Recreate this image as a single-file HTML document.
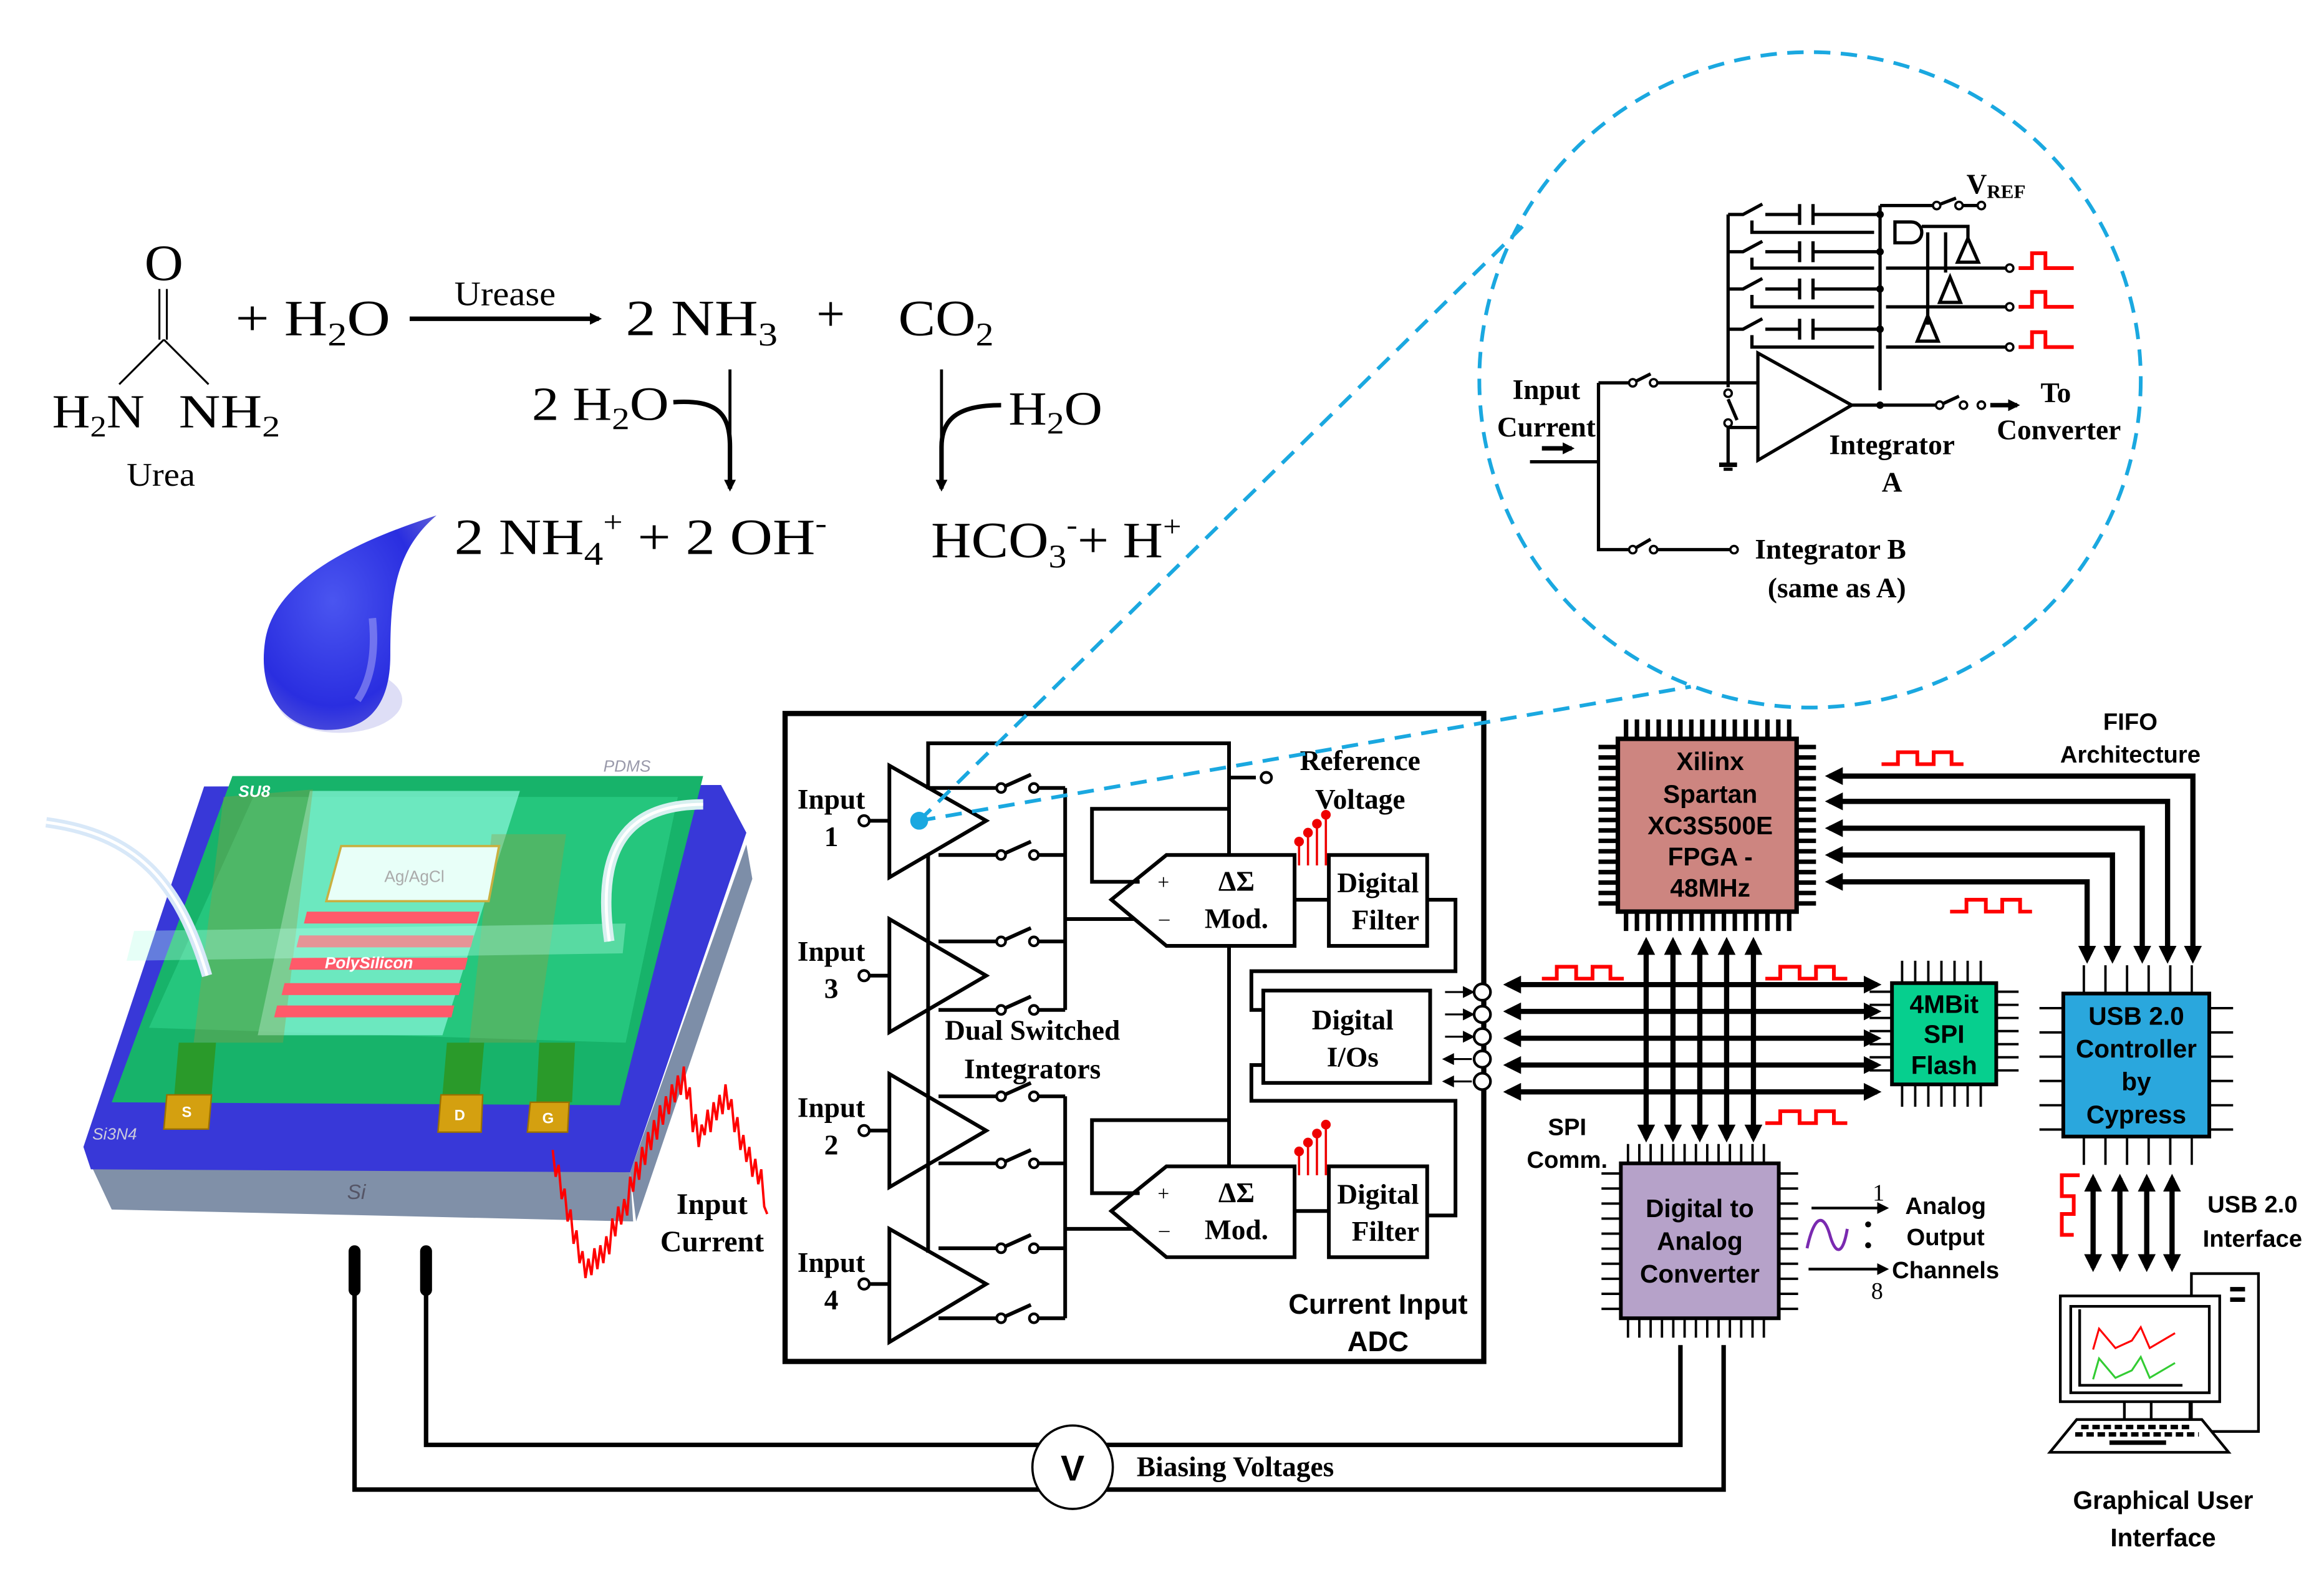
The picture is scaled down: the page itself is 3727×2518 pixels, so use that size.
<!DOCTYPE html>
<html><head><meta charset="utf-8"><style>
html,body{margin:0;padding:0;background:#fff}
svg{display:block}
.s{font-family:"Liberation Serif",serif}
.sb{font-family:"Liberation Serif",serif;font-weight:bold}
.a{font-family:"Liberation Sans",sans-serif;font-weight:bold}
</style></head><body>
<svg width="3727" height="2518" viewBox="0 0 1560 1054" preserveAspectRatio="none" xmlns="http://www.w3.org/2000/svg">
<defs>
<marker id="ah" markerWidth="8" markerHeight="8" refX="6" refY="4" orient="auto" markerUnits="userSpaceOnUse"><path d="M0,0 L8,4 L0,8 z" fill="#000"/></marker>
<marker id="ab" markerWidth="12" markerHeight="12" refX="9" refY="6" orient="auto-start-reverse" markerUnits="userSpaceOnUse"><path d="M0,0 L12,6 L0,12 z" fill="#000"/></marker>
<radialGradient id="dg" cx="0.4" cy="0.4" r="0.7"><stop offset="0" stop-color="#4a55f0"/><stop offset="0.7" stop-color="#2a2ee0"/><stop offset="1" stop-color="#5a5ad8"/></radialGradient>
</defs>

<!-- Chemistry -->
<g class="s" fill="#000">
<text x="97" y="188" font-size="34" textLength="26" lengthAdjust="spacingAndGlyphs">O</text>
<line x1="107" y1="194" x2="107" y2="228" stroke="#000" stroke-width="1.3"/>
<line x1="112" y1="194" x2="112" y2="228" stroke="#000" stroke-width="1.3"/>
<line x1="110" y1="228" x2="80" y2="258" stroke="#000" stroke-width="1.3"/>
<line x1="110" y1="228" x2="140" y2="258" stroke="#000" stroke-width="1.3"/>
<text x="35" y="287" font-size="32" textLength="62" lengthAdjust="spacingAndGlyphs">H<tspan font-size="20" dy="6">2</tspan><tspan dy="-6">N</tspan></text>
<text x="120" y="287" font-size="32" textLength="68" lengthAdjust="spacingAndGlyphs">NH<tspan font-size="20" dy="6">2</tspan></text>
<text x="85" y="326" font-size="22" textLength="46" lengthAdjust="spacingAndGlyphs">Urea</text>
<text x="158" y="225" font-size="34" textLength="104" lengthAdjust="spacingAndGlyphs">+ H<tspan font-size="22" dy="7">2</tspan><tspan dy="-7">O</tspan></text>
<text x="305" y="205" font-size="23" textLength="68" lengthAdjust="spacingAndGlyphs">Urease</text>
<line x1="275" y1="214" x2="402" y2="214" stroke="#000" stroke-width="3" marker-end="url(#ah)"/>
<text x="420" y="225" font-size="34" textLength="102" lengthAdjust="spacingAndGlyphs">2  NH<tspan font-size="22" dy="7">3</tspan></text>
<text x="548" y="222" font-size="34">+</text>
<text x="603" y="225" font-size="34" textLength="64" lengthAdjust="spacingAndGlyphs">CO<tspan font-size="22" dy="7">2</tspan></text>
<text x="357" y="282" font-size="32" textLength="92" lengthAdjust="spacingAndGlyphs">2 H<tspan font-size="21" dy="6">2</tspan><tspan dy="-6">O</tspan></text>
<path d="M452,270 C482,268 490,278 490,300 L490,328" fill="none" stroke="#000" stroke-width="3" marker-end="url(#ah)"/>
<line x1="490" y1="248" x2="490" y2="300" stroke="#000" stroke-width="2"/>
<text x="677" y="285" font-size="32" textLength="63" lengthAdjust="spacingAndGlyphs">H<tspan font-size="21" dy="6">2</tspan><tspan dy="-6">O</tspan></text>
<path d="M672,272 C642,272 632,282 632,300 L632,328" fill="none" stroke="#000" stroke-width="3" marker-end="url(#ah)"/>
<line x1="632" y1="248" x2="632" y2="300" stroke="#000" stroke-width="2"/>
<text x="305" y="372" font-size="34" textLength="250" lengthAdjust="spacingAndGlyphs">2  NH<tspan font-size="22" dy="7">4</tspan><tspan font-size="20" dy="-22">+</tspan><tspan dy="15"> + 2 OH</tspan><tspan font-size="20" dy="-14">-</tspan></text>
<text x="625" y="374" font-size="34" textLength="168" lengthAdjust="spacingAndGlyphs">HCO<tspan font-size="22" dy="7">3</tspan><tspan font-size="20" dy="-22">-</tspan><tspan dy="15">+ H</tspan><tspan font-size="20" dy="-14">+</tspan></text>
</g>

<!-- Drop -->
<ellipse cx="228" cy="470" rx="42" ry="22" fill="#c8c8f0" opacity="0.6"/>
<path d="M293,346 C250,360 185,385 178,430 C172,470 195,490 220,490 C250,490 262,470 262,440 C262,400 265,370 293,346 Z" fill="url(#dg)"/>
<path d="M240,470 C250,455 252,435 250,415" fill="none" stroke="#9a9af5" stroke-width="5" opacity="0.6"/>

<!-- Chip 3D -->
<polygon points="61,782 423,787 425,820 75,812" fill="#8090a8"/>
<polygon points="423,787 501,567 505,590 427,820" fill="#7d8ea8"/>
<polygon points="56,770 137,528 484,527 501,559 423,787 61,785" fill="#3838d8"/>
<polygon points="75,740 156,521 472,521 416,742" fill="#17b36a"/>
<polygon points="100,690 170,535 455,535 420,700" fill="#2ccf86" opacity="0.7"/>
<polygon points="208,531 349,531 297,695 173,695" fill="#7ef0d0" opacity="0.8"/>
<polygon points="150,535 210,530 190,700 130,700" fill="#9a9a40" opacity="0.35"/>
<polygon points="330,560 380,560 360,700 315,700" fill="#9a9a40" opacity="0.35"/>
<polygon points="229,568 335,568 328,605 219,605" fill="#e8fff8" stroke="#c8b040" stroke-width="1.5"/>
<text x="258" y="592" font-family="Liberation Sans" font-size="11" fill="#aaa">Ag/AgCl</text>
<g fill="#ff5a6a">
<polygon points="206,612 322,612 320,620 204,620"/>
<polygon points="201,628 318,628 316,636 199,636"/>
<polygon points="196,643 314,643 312,651 194,651"/>
<polygon points="191,660 310,660 308,668 189,668"/>
<polygon points="186,675 305,675 303,683 184,683"/>
</g>
<text x="218" y="650" font-family="Liberation Sans" font-weight="bold" font-style="italic" font-size="11" fill="#fff">PolySilicon</text>
<polygon points="90,625 420,620 418,640 85,645" fill="#b8ffe8" opacity="0.35"/>
<g fill="#2a9a2a"><polygon points="120,700 145,700 142,735 117,735"/><polygon points="300,700 325,700 322,735 297,735"/><polygon points="362,700 386,700 384,740 360,740"/></g>
<g fill="#d4a010" stroke="#9a7000" stroke-width="1"><polygon points="112,735 142,735 140,758 110,758"/><polygon points="296,735 324,735 323,760 294,760"/><polygon points="356,740 382,740 381,760 354,760"/></g>
<g font-family="Liberation Sans" font-weight="bold" font-size="10" fill="#fff"><text x="122" y="750">S</text><text x="305" y="752">D</text><text x="364" y="754">G</text></g>
<text x="62" y="765" font-family="Liberation Sans" font-style="italic" font-size="11" fill="#ccd">Si3N4</text>
<text x="160" y="535" font-family="Liberation Sans" font-weight="bold" font-style="italic" font-size="11" fill="#fff">SU8</text>
<text x="405" y="518" font-family="Liberation Sans" font-style="italic" font-size="11" fill="#99a">PDMS</text>
<text x="233" y="805" font-family="Liberation Sans" font-style="italic" font-size="14" fill="#556">Si</text>
<path d="M31,552 C90,560 120,590 139,655" fill="none" stroke="#d8e8f8" stroke-width="7"/>
<path d="M31,552 C90,560 120,590 139,655" fill="none" stroke="#fff" stroke-width="2"/>
<path d="M472,540 C420,540 400,570 409,632" fill="none" stroke="#d8f0f0" stroke-width="7"/>
<path d="M472,540 C420,540 400,570 409,632" fill="none" stroke="#fff" stroke-width="2"/>
<polyline fill="none" stroke="#f00" stroke-width="1.6" points="371,772 373,790 375,782 377,805 379,798 381,820 383,812 385,835 387,826 389,848 391,840 393,858 395,845 397,856 399,838 401,852 403,836 405,848 407,830 409,842 411,818 413,830 415,810 417,822 419,805 421,816 423,790 425,800 427,780 429,792 431,770 433,782 435,760 437,772 439,752 441,765 443,742 445,755 447,736 449,748 451,728 453,740 455,722 457,735 459,716 461,738 463,730 465,760 467,748 469,770 471,755 473,762 475,745 477,760 479,740 481,752 483,735 485,748 487,728 489,745 491,738 493,760 495,750 497,772 499,762 501,780 503,770 505,790 507,778 509,795 511,785 513,810 515,815"/>
<text class="sb" x="478" y="815" font-size="20" text-anchor="middle">Input</text>
<text class="sb" x="478" y="840" font-size="20" text-anchor="middle">Current</text>

<!-- Bias -->
<g stroke="#000" fill="none">
<line x1="238" y1="840" x2="238" y2="866" stroke-width="8" stroke-linecap="round"/>
<line x1="286" y1="840" x2="286" y2="866" stroke-width="8" stroke-linecap="round"/>
<polyline points="286,862 286,970 1128,970 1128,903" stroke-width="3"/>
<polyline points="238,862 238,1000 1157,1000 1157,903" stroke-width="3"/>
</g>
<ellipse cx="720" cy="985" rx="27" ry="28" fill="#fff" stroke="#000" stroke-width="1.5"/>
<text class="a" x="720" y="994" font-size="24" text-anchor="middle">V</text>
<text class="sb" x="763" y="991" font-size="19">Biasing Voltages</text>

<!-- ADC -->
<rect x="527" y="479" width="469" height="435" fill="none" stroke="#000" stroke-width="3.5"/>
<g stroke="#000" stroke-width="2.5" fill="none">
<polygon points="597,514 597,589 662,551" fill="#fff"/>
<polygon points="597,617 597,693 662,655" fill="#fff"/>
<polygon points="597,721 597,797 662,759" fill="#fff"/>
<polygon points="597,825 597,901 662,862" fill="#fff"/>
<line x1="580" y1="551" x2="597" y2="551"/><line x1="580" y1="655" x2="597" y2="655"/><line x1="580" y1="759" x2="597" y2="759"/><line x1="580" y1="862" x2="597" y2="862"/>
<polyline points="623,530 623,499 825,499 825,574"/>
<line x1="623" y1="574" x2="623" y2="841"/>
<!-- switches rows -->
<polyline points="623,529 672,529 692,520"/><polyline points="694,529 715,529"/>
<polyline points="630,574 672,574 692,565"/><polyline points="694,574 715,574"/>
<polyline points="630,632 672,632 692,623"/><polyline points="694,632 715,632"/>
<polyline points="630,678 672,678 692,669"/><polyline points="694,678 715,678"/>
<polyline points="630,736 672,736 692,727"/><polyline points="694,736 715,736"/>
<polyline points="630,781 672,781 692,772"/><polyline points="694,781 715,781"/>
<polyline points="630,838 672,838 692,829"/><polyline points="694,838 715,838"/>
<polyline points="630,885 672,885 692,876"/><polyline points="694,885 715,885"/>
<line x1="715" y1="529" x2="715" y2="678"/><line x1="715" y1="736" x2="715" y2="885"/>
<line x1="715" y1="617" x2="770" y2="617"/><line x1="715" y1="825" x2="770" y2="825"/>
<polygon points="746,604 783,574 869,574 869,635 783,635" fill="#fff"/>
<polygon points="746,813 783,783 869,783 869,844 783,844" fill="#fff"/>
<polyline points="765,592 733,592 733,543 825,543"/>
<polyline points="825,635 825,783"/>
<polyline points="825,752 733,752 733,801 765,801"/>
<polyline points="825,522 843,522"/>
<rect x="892" y="574" width="66" height="61" fill="#fff"/>
<rect x="892" y="783" width="66" height="61" fill="#fff"/>
<line x1="869" y1="604" x2="892" y2="604"/><line x1="869" y1="813" x2="892" y2="813"/>
<polyline points="958,604 977,604 977,652 840,652 840,678 848,678"/>
<polyline points="958,816 977,816 977,739 840,739 840,715 848,715"/>
<rect x="848" y="665" width="112" height="62" fill="#fff"/>
</g>
<g fill="#fff" stroke="#000" stroke-width="1.8">
<circle cx="580" cy="551" r="3.5"/><circle cx="580" cy="655" r="3.5"/><circle cx="580" cy="759" r="3.5"/><circle cx="580" cy="862" r="3.5"/>
<circle cx="672" cy="529" r="3"/><circle cx="694" cy="529" r="3"/><circle cx="672" cy="574" r="3"/><circle cx="694" cy="574" r="3"/>
<circle cx="672" cy="632" r="3"/><circle cx="694" cy="632" r="3"/><circle cx="672" cy="678" r="3"/><circle cx="694" cy="678" r="3"/>
<circle cx="672" cy="736" r="3"/><circle cx="694" cy="736" r="3"/><circle cx="672" cy="781" r="3"/><circle cx="694" cy="781" r="3"/>
<circle cx="672" cy="838" r="3"/><circle cx="694" cy="838" r="3"/><circle cx="672" cy="885" r="3"/><circle cx="694" cy="885" r="3"/>
<circle cx="850" cy="522" r="3.5"/>
<circle cx="995" cy="666" r="5.5"/><circle cx="995" cy="681" r="5.5"/><circle cx="995" cy="696" r="5.5"/><circle cx="995" cy="711" r="5.5"/><circle cx="995" cy="726" r="5.5"/>
</g>
<g stroke="#000" stroke-width="1.3">
<line x1="970" y1="666" x2="988" y2="666" marker-end="url(#ah)"/><line x1="970" y1="681" x2="988" y2="681" marker-end="url(#ah)"/><line x1="970" y1="696" x2="988" y2="696" marker-end="url(#ah)"/>
<line x1="988" y1="711" x2="970" y2="711" marker-end="url(#ah)"/><line x1="988" y1="726" x2="970" y2="726" marker-end="url(#ah)"/>
</g>
<g stroke="#e00" stroke-width="1.5" fill="#e00">
<line x1="872" y1="565" x2="872" y2="581"/><line x1="878" y1="559" x2="878" y2="581"/><line x1="884" y1="553" x2="884" y2="581"/><line x1="890" y1="547" x2="890" y2="581"/>
<circle cx="872" cy="565" r="2.5"/><circle cx="878" cy="559" r="2.5"/><circle cx="884" cy="553" r="2.5"/><circle cx="890" cy="547" r="2.5"/>
<line x1="872" y1="773" x2="872" y2="789"/><line x1="878" y1="767" x2="878" y2="789"/><line x1="884" y1="761" x2="884" y2="789"/><line x1="890" y1="755" x2="890" y2="789"/>
<circle cx="872" cy="773" r="2.5"/><circle cx="878" cy="767" r="2.5"/><circle cx="884" cy="761" r="2.5"/><circle cx="890" cy="755" r="2.5"/>
</g>
<g class="sb" font-size="19" text-anchor="middle">
<text x="558" y="543">Input</text><text x="558" y="568">1</text>
<text x="558" y="645">Input</text><text x="558" y="670">3</text>
<text x="558" y="750">Input</text><text x="558" y="775">2</text>
<text x="558" y="854">Input</text><text x="558" y="879">4</text>
<text x="693" y="698">Dual Switched</text><text x="693" y="724">Integrators</text>
<text x="913" y="517">Reference</text><text x="913" y="543">Voltage</text>
<text x="925" y="599">Digital</text><text x="930" y="624">Filter</text>
<text x="925" y="808">Digital</text><text x="930" y="833">Filter</text>
<text x="908" y="691">Digital</text><text x="908" y="716">I/Os</text>
<text x="830" y="598">ΔΣ</text><text x="830" y="623">Mod.</text>
<text x="830" y="807">ΔΣ</text><text x="830" y="832">Mod.</text>
</g>
<g class="s" font-size="14"><text x="777" y="597">+</text><text x="778" y="621">–</text><text x="777" y="806">+</text><text x="778" y="830">–</text></g>
<text class="a" x="925" y="882" font-size="19" text-anchor="middle">Current Input</text>
<text class="a" x="925" y="907" font-size="19" text-anchor="middle">ADC</text>

<!-- Inset circle -->
<ellipse cx="1215" cy="255" rx="222" ry="220" fill="none" stroke="#1aa8e0" stroke-width="2.5" stroke-dasharray="11,7"/>
<line x1="617" y1="551" x2="1022" y2="152" stroke="#1aa8e0" stroke-width="2.5" stroke-dasharray="11,7"/>
<line x1="617" y1="551" x2="1135" y2="461" stroke="#1aa8e0" stroke-width="2.5" stroke-dasharray="11,7"/>
<circle cx="617" cy="551" r="6" fill="#1aa8e0"/>
<g stroke="#000" stroke-width="2.2" fill="none">
<line x1="1027" y1="310" x2="1073" y2="310"/>
<line x1="1035" y1="301" x2="1055" y2="301" stroke-width="3" marker-end="url(#ah)"/>
<polyline points="1073,257 1073,369 1096,369 1108,362"/>
<polyline points="1073,257 1096,257 1108,251"/>
<line x1="1110" y1="257" x2="1180" y2="257"/>
<line x1="1110" y1="369" x2="1164" y2="369"/>
<polygon points="1180,237 1180,309 1243,272" fill="#fff"/>
<line x1="1160" y1="144" x2="1160" y2="260"/>
<polyline points="1160,268 1166,282"/>
<polyline points="1160,287 1180,287"/>
<line x1="1160" y1="284" x2="1160" y2="312"/>
<line x1="1154" y1="312" x2="1166" y2="312" stroke-width="3"/>
<line x1="1157" y1="315" x2="1163" y2="315"/>
<line x1="1262" y1="138" x2="1262" y2="262"/>
<polyline points="1262,138 1300,138 1313,133"/><line x1="1315" y1="138" x2="1330" y2="138"/>
<line x1="1243" y1="272" x2="1302" y2="272"/><line x1="1302" y1="272" x2="1315" y2="266"/>
<line x1="1336" y1="272" x2="1354" y2="272" stroke-width="3" marker-end="url(#ah)"/>
<g>
<polyline points="1160,144 1170,144 1183,137"/><line x1="1185" y1="144" x2="1208" y2="144"/><line x1="1217" y1="144" x2="1262" y2="144"/>
<line x1="1208" y1="137" x2="1208" y2="151"/><line x1="1217" y1="137" x2="1217" y2="151"/>
<polyline points="1160,169 1170,169 1183,162"/><line x1="1185" y1="169" x2="1208" y2="169"/><line x1="1217" y1="169" x2="1262" y2="169"/>
<line x1="1208" y1="162" x2="1208" y2="176"/><line x1="1217" y1="162" x2="1217" y2="176"/>
<polyline points="1160,194 1170,194 1183,187"/><line x1="1185" y1="194" x2="1208" y2="194"/><line x1="1217" y1="194" x2="1262" y2="194"/>
<line x1="1208" y1="187" x2="1208" y2="201"/><line x1="1217" y1="187" x2="1217" y2="201"/>
<polyline points="1160,221 1170,221 1183,214"/><line x1="1185" y1="221" x2="1208" y2="221"/><line x1="1217" y1="221" x2="1262" y2="221"/>
<line x1="1208" y1="214" x2="1208" y2="228"/><line x1="1217" y1="214" x2="1217" y2="228"/>
<polyline points="1176,148 1176,156 1258,156"/>
<polyline points="1176,173 1176,180 1258,180"/><line x1="1266" y1="180" x2="1349" y2="180"/>
<polyline points="1176,198 1176,206 1258,206"/><line x1="1266" y1="206" x2="1349" y2="206"/>
<polyline points="1176,225 1176,233 1258,233"/><line x1="1266" y1="233" x2="1349" y2="233"/>
<path d="M1272,149 L1283,149 A7,7 0 0 1 1283,163 L1272,163 Z"/>
<polyline points="1290,152 1321,152 1321,160"/>
<line x1="1294" y1="156" x2="1294" y2="218"/><line x1="1306" y1="156" x2="1306" y2="183"/>
<polygon points="1321,160 1314,176 1328,176"/>
<polygon points="1309,186 1302,203 1316,203"/>
<polygon points="1294,212 1287,229 1301,229"/>
</g>
</g>
<g fill="#fff" stroke="#000" stroke-width="1.5">
<circle cx="1096" cy="257" r="2.5"/><circle cx="1110" cy="257" r="2.5"/><circle cx="1096" cy="369" r="2.5"/><circle cx="1110" cy="369" r="2.5"/><circle cx="1164" cy="369" r="2.5"/>
<circle cx="1300" cy="138" r="2.5"/><circle cx="1315" cy="138" r="2.5"/><circle cx="1330" cy="138" r="2.5"/>
<circle cx="1302" cy="272" r="2.5"/><circle cx="1318" cy="272" r="2.5"/><circle cx="1330" cy="272" r="2.5"/>
<circle cx="1349" cy="180" r="2.5"/><circle cx="1349" cy="206" r="2.5"/><circle cx="1349" cy="233" r="2.5"/>
<circle cx="1160" cy="264" r="2.5"/><circle cx="1160" cy="284" r="2.5"/>
</g>
<g fill="#000"><circle cx="1262" cy="144" r="2.5"/><circle cx="1262" cy="169" r="2.5"/><circle cx="1262" cy="194" r="2.5"/><circle cx="1262" cy="221" r="2.5"/><circle cx="1262" cy="272" r="2.5"/></g>
<g fill="none" stroke="#f00" stroke-width="2.5">
<polyline points="1355,180 1364,180 1364,170 1373,170 1373,180 1392,180"/>
<polyline points="1355,206 1364,206 1364,196 1373,196 1373,206 1392,206"/>
<polyline points="1355,233 1364,233 1364,223 1373,223 1373,233 1392,233"/>
</g>
<g class="sb" font-size="19">
<text x="1038" y="268" text-anchor="middle">Input</text><text x="1038" y="293" text-anchor="middle">Current</text>
<text x="1270" y="305" text-anchor="middle">Integrator</text><text x="1270" y="330" text-anchor="middle">A</text>
<text x="1380" y="270" text-anchor="middle">To</text><text x="1382" y="295" text-anchor="middle">Converter</text>
<text x="1178" y="375">Integrator B</text><text x="1233" y="401" text-anchor="middle">(same as A)</text>
<text x="1320" y="130">V<tspan font-size="13" dy="3">REF</tspan></text>
</g>

<!-- Right section: FPGA -->
<g stroke="#000" fill="none">
<line x1="1090" y1="489" x2="1203" y2="489" stroke-width="12" stroke-dasharray="3 4.3"/>
<line x1="1090" y1="619" x2="1203" y2="619" stroke-width="12" stroke-dasharray="3 4.3"/>
<line x1="1079" y1="500" x2="1079" y2="609" stroke-width="12" stroke-dasharray="3 4"/>
<line x1="1213" y1="500" x2="1213" y2="609" stroke-width="12" stroke-dasharray="3 4"/>
</g>
<rect x="1086" y="496" width="120" height="116" fill="#cd8580" stroke="#000" stroke-width="3"/>
<g class="a" font-size="17" text-anchor="middle"><text x="1148" y="517">Xilinx</text><text x="1148" y="539">Spartan</text><text x="1148" y="560">XC3S500E</text><text x="1148" y="581">FPGA -</text><text x="1148" y="602">48MHz</text></g>
<!-- FIFO arrows -->
<g stroke="#000" stroke-width="3.5" fill="none">
<polyline points="1472,644 1472,521 1228,521" marker-end="url(#ab)" marker-start="url(#ab)"/>
<polyline points="1455,644 1455,538 1228,538" marker-end="url(#ab)" marker-start="url(#ab)"/>
<polyline points="1438,644 1438,556 1228,556" marker-end="url(#ab)" marker-start="url(#ab)"/>
<polyline points="1418,644 1418,574 1228,574" marker-end="url(#ab)" marker-start="url(#ab)"/>
<polyline points="1401,644 1401,592 1228,592" marker-end="url(#ab)" marker-start="url(#ab)"/>
</g>
<g fill="none" stroke="#f00" stroke-width="2.5">
<polyline points="1263,513 1274,513 1274,505 1287,505 1287,513 1298,513 1298,505 1310,505 1310,513 1318,513"/>
<polyline points="1309,612 1320,612 1320,604 1333,604 1333,612 1344,612 1344,604 1356,604 1356,612 1364,612"/>
<polyline points="1035,657 1045,657 1045,649 1058,649 1058,657 1069,657 1069,649 1081,649 1081,657 1090,657"/>
<polyline points="1185,657 1195,657 1195,649 1208,649 1208,657 1219,657 1219,649 1231,649 1231,657 1240,657"/>
<polyline points="1185,754 1195,754 1195,746 1208,746 1208,754 1219,754 1219,746 1231,746 1231,754 1240,754"/>
<polyline points="1396,789 1384,789 1384,803 1392,803 1392,815 1384,815 1384,829 1392,829"/>
</g>
<text class="a" x="1430" y="490" font-size="16" text-anchor="middle">FIFO</text>
<text class="a" x="1430" y="512" font-size="16" text-anchor="middle">Architecture</text>
<!-- Bus -->
<g stroke="#000" stroke-width="3.5" fill="none">
<line x1="1012" y1="661" x2="1260" y2="661" marker-end="url(#ab)" marker-start="url(#ab)"/>
<line x1="1012" y1="679" x2="1260" y2="679" marker-end="url(#ab)" marker-start="url(#ab)"/>
<line x1="1012" y1="697" x2="1260" y2="697" marker-end="url(#ab)" marker-start="url(#ab)"/>
<line x1="1012" y1="715" x2="1260" y2="715" marker-end="url(#ab)" marker-start="url(#ab)"/>
<line x1="1012" y1="733" x2="1260" y2="733" marker-end="url(#ab)" marker-start="url(#ab)"/>
<line x1="1105" y1="632" x2="1105" y2="764" marker-end="url(#ab)" marker-start="url(#ab)"/>
<line x1="1123" y1="632" x2="1123" y2="764" marker-end="url(#ab)" marker-start="url(#ab)"/>
<line x1="1141" y1="632" x2="1141" y2="764" marker-end="url(#ab)" marker-start="url(#ab)"/>
<line x1="1159" y1="632" x2="1159" y2="764" marker-end="url(#ab)" marker-start="url(#ab)"/>
<line x1="1177" y1="632" x2="1177" y2="764" marker-end="url(#ab)" marker-start="url(#ab)"/>
</g>
<text class="a" x="1052" y="762" font-size="16" text-anchor="middle">SPI</text>
<text class="a" x="1052" y="784" font-size="16" text-anchor="middle">Comm.</text>
<!-- Flash -->
<g stroke="#000" fill="none">
<line x1="1276" y1="652" x2="1336" y2="652" stroke-width="14" stroke-dasharray="1.6 7.2"/>
<line x1="1276" y1="736" x2="1336" y2="736" stroke-width="14" stroke-dasharray="1.6 7.2"/>
<line x1="1262" y1="665" x2="1262" y2="726" stroke-width="14" stroke-dasharray="1.6 7.2"/>
<line x1="1348" y1="665" x2="1348" y2="726" stroke-width="14" stroke-dasharray="1.6 7.2"/>
</g>
<rect x="1270" y="660" width="70" height="68" fill="#06cf8e" stroke="#000" stroke-width="2.5"/>
<g class="a" font-size="17" text-anchor="middle"><text x="1305" y="680">4MBit</text><text x="1305" y="700">SPI</text><text x="1305" y="721">Flash</text></g>
<!-- USB -->
<g stroke="#000" fill="none">
<line x1="1398" y1="657" x2="1472" y2="657" stroke-width="18" stroke-dasharray="1.6 12.9"/>
<line x1="1398" y1="773" x2="1472" y2="773" stroke-width="18" stroke-dasharray="1.6 12.9"/>
<line x1="1377" y1="676" x2="1377" y2="760" stroke-width="16" stroke-dasharray="1.6 14.7"/>
<line x1="1491" y1="676" x2="1491" y2="760" stroke-width="16" stroke-dasharray="1.6 14.7"/>
</g>
<rect x="1385" y="667" width="98" height="96" fill="#2aa7dd" stroke="#000" stroke-width="2.5"/>
<g class="a" font-size="17" text-anchor="middle"><text x="1434" y="688">USB 2.0</text><text x="1434" y="710">Controller</text><text x="1434" y="732">by</text><text x="1434" y="754">Cypress</text></g>
<g stroke="#000" stroke-width="3.5">
<line x1="1405" y1="791" x2="1405" y2="851" marker-end="url(#ab)" marker-start="url(#ab)"/>
<line x1="1423" y1="791" x2="1423" y2="851" marker-end="url(#ab)" marker-start="url(#ab)"/>
<line x1="1441" y1="791" x2="1441" y2="851" marker-end="url(#ab)" marker-start="url(#ab)"/>
<line x1="1458" y1="791" x2="1458" y2="851" marker-end="url(#ab)" marker-start="url(#ab)"/>
</g>
<text class="a" x="1512" y="814" font-size="16" text-anchor="middle">USB 2.0</text>
<text class="a" x="1512" y="837" font-size="16" text-anchor="middle">Interface</text>
<!-- DAC -->
<g stroke="#000" fill="none">
<line x1="1092" y1="774" x2="1190" y2="774" stroke-width="12" stroke-dasharray="1.6 6"/>
<line x1="1092" y1="892" x2="1190" y2="892" stroke-width="12" stroke-dasharray="1.6 6"/>
<line x1="1081" y1="787" x2="1081" y2="880" stroke-width="12" stroke-dasharray="1.6 8.5"/>
<line x1="1201" y1="787" x2="1201" y2="880" stroke-width="12" stroke-dasharray="1.6 8.5"/>
</g>
<rect x="1088" y="781" width="106" height="104" fill="#b6a2c9" stroke="#000" stroke-width="2.5"/>
<g class="a" font-size="17" text-anchor="middle"><text x="1141" y="817">Digital to</text><text x="1141" y="839">Analog</text><text x="1141" y="861">Converter</text></g>
<line x1="1216" y1="811" x2="1266" y2="811" stroke="#000" stroke-width="1.8" marker-end="url(#ah)"/>
<line x1="1214" y1="852" x2="1266" y2="852" stroke="#000" stroke-width="1.8" marker-end="url(#ah)"/>
<path d="M1213,838 C1218,815 1224,815 1228,828 C1232,843 1237,843 1240,825" fill="none" stroke="#7a2ab0" stroke-width="2"/>
<circle cx="1254" cy="822" r="2" fill="#000"/><circle cx="1254" cy="836" r="2" fill="#000"/>
<text class="s" x="1257" y="806" font-size="16">1</text><text class="s" x="1256" y="872" font-size="16">8</text>
<g class="a" font-size="16" text-anchor="middle"><text x="1306" y="815">Analog</text><text x="1306" y="836">Output</text><text x="1306" y="858">Channels</text></g>
<!-- Computer -->
<g stroke="#000" fill="#fff" stroke-width="1.8">
<rect x="1471" y="855" width="45" height="106"/>
<rect x="1383" y="870" width="107" height="71"/>
<rect x="1390" y="877" width="93" height="58"/>
<line x1="1426" y1="941" x2="1426" y2="953"/><line x1="1444" y1="941" x2="1444" y2="953"/><line x1="1470" y1="941" x2="1470" y2="953"/>
<polygon points="1394,953 1478,953 1496,975 1376,975"/>
</g>
<rect x="1497" y="864" width="10" height="3" fill="#000"/><rect x="1497" y="871" width="10" height="3" fill="#000"/>
<polyline points="1396,879 1396,930 1465,930" fill="none" stroke="#000" stroke-width="1.8"/>
<polyline points="1405,906 1409,892 1420,905 1431,900 1437,891 1443,905 1460,895" fill="none" stroke="#f00" stroke-width="1.3"/>
<polyline points="1405,926 1409,912 1420,925 1431,920 1437,911 1443,925 1460,915" fill="none" stroke="#3c3" stroke-width="1.3"/>
<line x1="1397" y1="958" x2="1471" y2="958" stroke="#000" stroke-width="3" stroke-dasharray="5 2.5"/>
<line x1="1393" y1="963" x2="1476" y2="963" stroke="#000" stroke-width="3" stroke-dasharray="5 2.5"/>
<rect x="1416" y="967" width="38" height="3" fill="#000"/>
<g font-family="Liberation Sans" font-weight="bold" font-size="17" text-anchor="middle"><text x="1452" y="1013">Graphical User</text><text x="1452" y="1038">Interface</text></g>
</svg>
</body></html>
